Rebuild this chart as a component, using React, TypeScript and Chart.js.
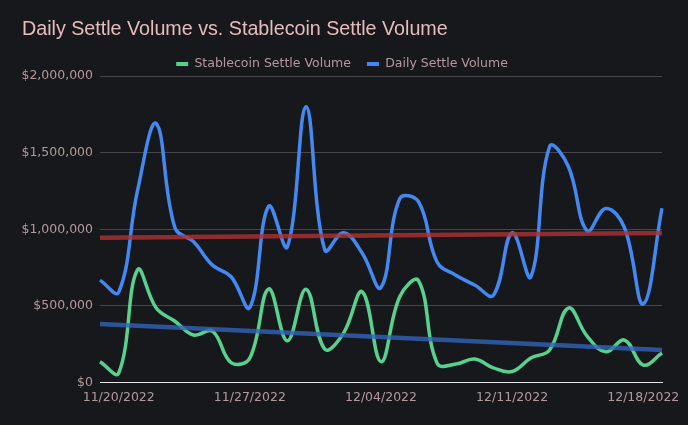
import { useEffect, useRef } from 'react';
import { Chart, registerables } from 'chart.js';

Chart.register(...registerables);

const dates = [
  '11/19/2022', '11/20/2022', '11/21/2022', '11/22/2022', '11/23/2022', '11/24/2022', '11/25/2022',
  '11/26/2022', '11/27/2022', '11/28/2022', '11/29/2022', '11/30/2022', '12/01/2022', '12/02/2022',
  '12/03/2022', '12/04/2022', '12/05/2022', '12/06/2022', '12/07/2022', '12/08/2022', '12/09/2022',
  '12/10/2022', '12/11/2022', '12/12/2022', '12/13/2022', '12/14/2022', '12/15/2022', '12/16/2022',
  '12/17/2022', '12/18/2022', '12/19/2022',
];

const tickDates = ['11/20/2022', '11/27/2022', '12/04/2022', '12/11/2022', '12/18/2022'];

const stablecoinVolume = [
  136000, 62000, 735000, 486000, 400000, 310000, 335000, 130000, 160000, 610000, 272000,
  608000, 218000, 322000, 592000, 136000, 560000, 665000, 125000, 120000, 153000, 95000,
  72000, 160000, 212000, 486000, 303000, 200000, 277000, 114000, 192000,
];

const dailyVolume = [
  668000, 590000, 1250000, 1690000, 1010000, 918000, 766000, 690000, 490000, 1150000, 885000,
  1800000, 864000, 977000, 844000, 620000, 1200000, 1180000, 785000, 700000, 636000, 570000,
  977000, 690000, 1540000, 1410000, 990000, 1135000, 1010000, 512000, 1137000,
];

const dailyTrendEnds = [944000, 976000];
const stableTrendEnds = [381000, 212000];

const yMin = 0;
const yMax = 2000000;
const yStep = 500000;

const BG = '#17181c';
const TEXT = '#b39a9a';
const FONT_SIZE = 12.5;
const LEGEND_TRIM = 4.3;

function endsToSeries(ends: number[]) {
  return dates.map((_, i) => (i === 0 ? ends[0] : i === dates.length - 1 ? ends[1] : null));
}

const legendHeightTrim = {
  id: 'legendHeightTrim',
  beforeLayout(chart: any) {
    const lg = chart.legend;
    if (lg && !lg.__trimmed) {
      const fit = lg.fit;
      lg.fit = function (this: any) {
        fit.call(this);
        this.height = Math.max(0, this.height - LEGEND_TRIM);
      };
      lg.__trimmed = true;
    }
  },
};

export default function App() {
  const ref = useRef<HTMLCanvasElement>(null);

  useEffect(() => {
    document.body.style.margin = '0';
    document.body.style.background = BG;
    const chart = new Chart(ref.current as HTMLCanvasElement, {
      type: 'line',
      plugins: [legendHeightTrim],
      data: {
        labels: dates,
        datasets: [
          {
            label: 'Stablecoin Settle Volume',
            data: stablecoinVolume,
            borderColor: '#5ad08e',
            backgroundColor: '#5ad08e',
            borderWidth: 3.5,
            tension: 0.4,
            pointRadius: 0,
            order: 2,
          },
          {
            label: 'Daily Settle Volume',
            data: dailyVolume,
            borderColor: '#4488f2',
            backgroundColor: '#4488f2',
            borderWidth: 3.5,
            tension: 0.4,
            pointRadius: 0,
            order: 2,
          },
          {
            label: 'Daily Trend',
            data: endsToSeries(dailyTrendEnds),
            borderColor: 'rgba(175, 50, 50, 0.8)',
            borderWidth: 4.5,
            tension: 0,
            pointRadius: 0,
            spanGaps: true,
            order: 1,
          },
          {
            label: 'Stablecoin Trend',
            data: endsToSeries(stableTrendEnds),
            borderColor: 'rgba(50, 100, 185, 0.8)',
            borderWidth: 4.5,
            tension: 0,
            pointRadius: 0,
            spanGaps: true,
            order: 1,
          },
        ],
      },
      options: {
        animation: false,
        responsive: true,
        maintainAspectRatio: false,
        layout: { padding: { top: 4, left: 22, right: 26, bottom: 11.5 } },
        plugins: {
          tooltip: { enabled: false },
          title: {
            display: true,
            text: 'Daily Settle Volume vs. Stablecoin Settle Volume',
            align: 'start',
            color: '#e8bcbc',
            font: { family: 'Liberation Sans', size: 19.7, weight: 'normal' },
            padding: { top: 14.2, bottom: 0 },
          },
          legend: {
            display: true,
            position: 'top',
            labels: {
              color: TEXT,
              font: { family: 'DejaVu Sans', size: FONT_SIZE },
              boxWidth: 12,
              boxHeight: 4,
              padding: 16,
              generateLabels: (c: Chart) =>
                Chart.defaults.plugins.legend.labels
                  .generateLabels(c)
                  .filter((l: any) => l.datasetIndex < 2)
                  .map((l: any) => ({ ...l, lineWidth: 0 })),
            },
          },
        },
        scales: {
          x: {
            grid: { display: false, drawTicks: false },
            border: { display: true, color: '#e6e6e6', width: 1 },
            ticks: {
              autoSkip: false,
              maxRotation: 0,
              padding: 8,
              color: TEXT,
              font: { family: 'DejaVu Sans', size: FONT_SIZE },
              callback: (_v: any, i: number) => (tickDates.includes(dates[i]) ? dates[i] : ''),
            },
          },
          y: {
            min: yMin,
            max: yMax,
            afterFit: (scale: any) => {
              scale.width = 78;
            },
            grid: {
              drawTicks: false,
              color: (ctx: any) => (ctx.tick && ctx.tick.value === 0 ? '#e6e6e6' : '#47474b'),
            },
            border: { display: false },
            ticks: {
              stepSize: yStep,
              padding: 7,
              color: TEXT,
              font: { family: 'DejaVu Sans', size: FONT_SIZE },
              callback: (v: any) => '$' + Number(v).toLocaleString('en-US'),
            },
          },
        },
      },
    });
    return () => chart.destroy();
  }, []);

  return (
    <div style={{ position: 'relative', width: 688, height: 425, background: BG }}>
      <canvas ref={ref} />
    </div>
  );
}
